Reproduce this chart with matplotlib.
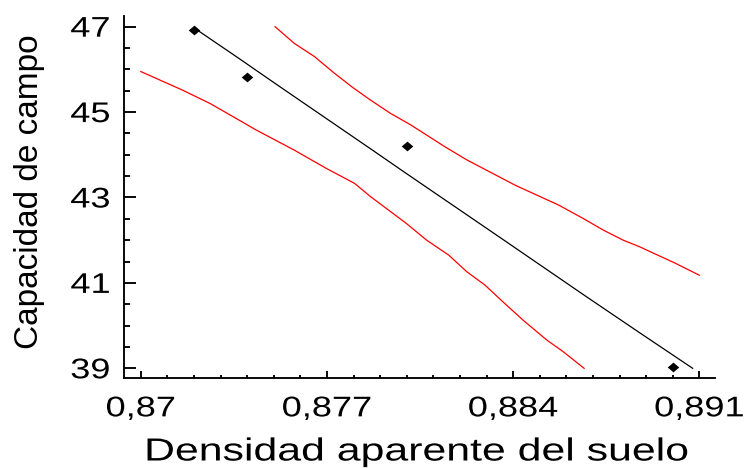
import matplotlib
matplotlib.use("Agg")
import matplotlib.pyplot as plt
from matplotlib.ticker import MultipleLocator, FixedLocator, FuncFormatter
from matplotlib.patheffects import AbstractPathEffect
from matplotlib.transforms import Affine2D

# Observed data points
densidad = [0.8720, 0.8740, 0.8800, 0.8900]
capacidad = [46.92, 45.83, 44.21, 39.04]

# Fitted line
fit_x = [0.87208, 0.87366, 0.87510, 0.87653, 0.87871, 0.87999, 0.88354,
         0.88663, 0.88874, 0.89075]
fit_y = [46.94, 46.27, 45.65, 45.04, 44.11, 43.56, 42.05, 40.73, 39.84, 39.00]

# Upper confidence limit
up_x = [0.87505, 0.87577, 0.87653, 0.87728, 0.87796, 0.87864, 0.87939, 0.88015,
        0.88143, 0.88226, 0.88407, 0.88572, 0.88663, 0.88738, 0.88814, 0.88874,
        0.89010, 0.89100]
up_y = [47.00, 46.61, 46.30, 45.91, 45.58, 45.28, 44.97, 44.70, 44.19, 43.88,
        43.29, 42.82, 42.51, 42.24, 42.00, 41.85, 41.46, 41.18]

# Lower confidence limit
lo_x = [0.87000, 0.87072, 0.87155, 0.87261, 0.87359, 0.87434, 0.87577, 0.87698,
        0.87804, 0.87864, 0.87939, 0.87999, 0.88075, 0.88158, 0.88226, 0.88294,
        0.88361, 0.88437, 0.88527, 0.88588, 0.88667]
lo_y = [45.95, 45.75, 45.52, 45.20, 44.85, 44.58, 44.11, 43.68, 43.33, 43.02,
        42.67, 42.39, 42.00, 41.65, 41.26, 40.95, 40.56, 40.13, 39.66, 39.39, 39.00]

x_ticks = [0.870, 0.877, 0.884, 0.891]
y_ticks = [39, 41, 43, 45, 47]


class HStretch(AbstractPathEffect):
    """Widen horizontal text about its own centre (the reference font is wide)."""
    def __init__(self, sx):
        super().__init__()
        self.sx = sx

    def draw_path(self, renderer, gc, tpath, affine, rgbFace=None):
        ext = tpath.get_extents()
        c = 0.5 * (ext.x0 + ext.x1)
        t = Affine2D().translate(-c, 0).scale(self.sx, 1).translate(c, 0) + affine
        renderer.draw_path(gc, tpath, t, rgbFace)


plt.rcParams['font.family'] = ['Liberation Sans', 'DejaVu Sans']

fig = plt.figure(figsize=(7.47, 4.68), dpi=100)
L, R, B, T = 124 / 747, 715 / 747, (468 - 378.3) / 468, (468 - 16) / 468
ax = fig.add_axes([L, B, R - L, T - B])

ax.plot(fit_x, fit_y, color='black', lw=0.9)
ax.plot(up_x, up_y, color='red', lw=0.9)
ax.plot(lo_x, lo_y, color='red', lw=0.9)
diamond = [(-1, 0), (0, 0.85), (1, 0), (0, -0.85), (-1, 0)]
ax.plot(densidad, capacidad, linestyle='none', marker=diamond, color='black',
        markersize=8.3, markeredgewidth=0)

ax.set_xlim(0.86937, 0.89159)
ax.set_ylim(38.766, 47.25)

ax.xaxis.set_major_locator(FixedLocator(x_ticks))
ax.xaxis.set_minor_locator(MultipleLocator(0.001))
ax.yaxis.set_major_locator(FixedLocator(y_ticks))
ax.yaxis.set_minor_locator(MultipleLocator(0.5))

def xfmt(v, pos):
    s = ('%.3f' % v).rstrip('0')
    return s.replace('.', ',')
ax.xaxis.set_major_formatter(FuncFormatter(xfmt))
ax.yaxis.set_major_formatter(FuncFormatter(lambda v, p: '%d' % round(v)))

for s in ['top', 'right']:
    ax.spines[s].set_visible(False)
for s in ['left', 'bottom']:
    ax.spines[s].set_linewidth(1.35)

ax.tick_params(axis='y', which='major', direction='in', length=8.6, width=1.35,
               labelsize=20.5, pad=12.8)
ax.tick_params(axis='y', which='minor', direction='in', length=4.1, width=1.35)
ax.tick_params(axis='x', which='major', direction='in', length=4.7, width=1.35,
               labelsize=20.5, pad=13)
ax.tick_params(axis='x', which='minor', direction='in', length=2.2, width=1.35)

fig.canvas.draw()
for lab in ax.get_xticklabels() + ax.get_yticklabels():
    lab.set_path_effects([HStretch(1.27)])

ax.set_xlabel('Densidad aparente del suelo', fontsize=23,
              path_effects=[HStretch(1.34)])
ax.set_ylabel('Capacidad de campo', fontsize=24)
ax.xaxis.set_label_coords(0.4958, -0.1634)
ax.yaxis.set_label_coords(-0.133, 0.514)

fig.savefig('out.png', dpi=100)
